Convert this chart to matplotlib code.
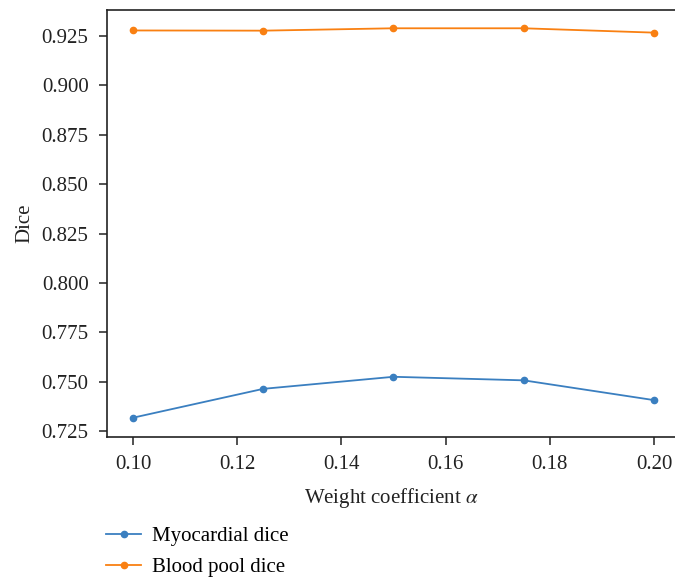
import matplotlib.pyplot as plt

# weight coefficient values and dice scores
alpha = [0.100, 0.125, 0.150, 0.175, 0.200]
myo_dice = [0.7319, 0.7465, 0.7526, 0.7508, 0.7408]
blood_dice = [0.9277, 0.9276, 0.9288, 0.9288, 0.9266]

plt.rcParams['font.family'] = ['Liberation Serif', 'DejaVu Serif']
plt.rcParams['font.size'] = 15
plt.rcParams['mathtext.fontset'] = 'stix'

fig = plt.figure(figsize=(6.75, 5.77), dpi=100)
ax = fig.add_axes([0.158, 0.242, 0.842, 0.741])

ax.plot(alpha, myo_dice, color='#3a7fc0', lw=1.3, marker='o', ms=4.5, label='Myocardial dice')
ax.plot(alpha, blood_dice, color='#f98012', lw=1.3, marker='o', ms=4.5, label='Blood pool dice')

ax.set_xlim(0.09495, 0.20403)
ax.set_ylim(0.72197, 0.93814)
ax.set_xticks([0.10, 0.12, 0.14, 0.16, 0.18, 0.20])
ax.set_yticks([0.725, 0.750, 0.775, 0.800, 0.825, 0.850, 0.875, 0.900, 0.925])
ax.set_yticklabels(['%.3f' % v for v in ax.get_yticks()])
ax.set_xticklabels(['%.2f' % v for v in ax.get_xticks()])

ax.spines['right'].set_visible(False)
for s in ['left', 'bottom', 'top']:
    ax.spines[s].set_linewidth(1.2)
    ax.spines[s].set_color('#222222')
ax.tick_params(direction='out', length=6, width=1.1, colors='#222222', labelcolor='#222222', pad=7)

ax.set_xlabel(r'Weight coefficient $\alpha$', color='#222222', labelpad=8)
ax.set_ylabel('Dice', color='#222222', labelpad=5)

fig.legend(loc='upper left', bbox_to_anchor=(0.157, 0.088), frameon=False,
           handlelength=1.7, handletextpad=0.5, labelspacing=0.55, borderaxespad=0,
           borderpad=0)

fig.savefig('out.png', dpi=100)
